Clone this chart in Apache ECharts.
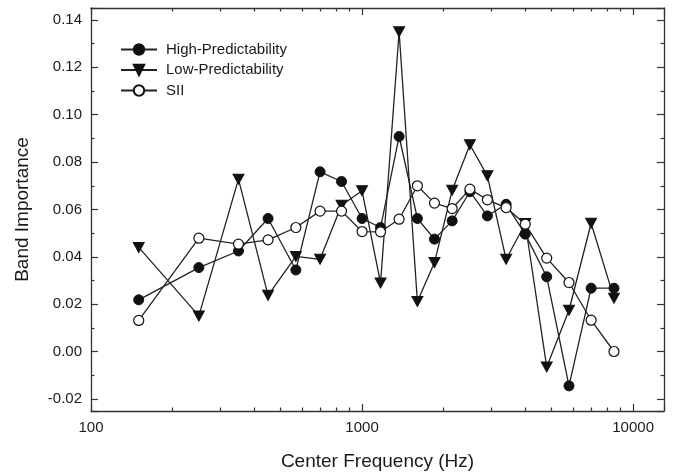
<!DOCTYPE html>
<html>
<head>
<meta charset="utf-8">
<script src="https://cdn.jsdelivr.net/npm/echarts@6/dist/echarts.min.js"></script>
<style>
html,body{margin:0;padding:0;background:#fff;}
#chart{width:674px;height:476px;}
</style>
</head>
<body>
<div id="chart"></div>
<script>
const frequencies = [150, 250, 350, 450, 570, 700, 840, 1000, 1170, 1370, 1600, 1850, 2150, 2500, 2900, 3400, 4000, 4800, 5800, 7000, 8500];
const highPredictability = [0.0219, 0.0355, 0.0425, 0.0562, 0.0345, 0.0759, 0.0718, 0.0562, 0.0524, 0.0908, 0.0562, 0.0475, 0.0552, 0.0675, 0.0573, 0.0622, 0.0496, 0.0316, -0.0144, 0.0268, 0.0268];
const lowPredictability = [0.0440, 0.0151, 0.0728, 0.0238, 0.0402, 0.0390, 0.0618, 0.0679, 0.0290, 0.1350, 0.0212, 0.0376, 0.0681, 0.0873, 0.0742, 0.0390, 0.0541, -0.0064, 0.0175, 0.0542, 0.0226];
const sii = [0.0132, 0.0479, 0.0454, 0.0472, 0.0524, 0.0593, 0.0593, 0.0507, 0.0506, 0.0559, 0.0700, 0.0627, 0.0604, 0.0686, 0.0641, 0.0608, 0.0538, 0.0395, 0.0292, 0.0133, 0.0001];
const seriesNames = ['High-Predictability', 'Low-Predictability', 'SII'];
const xTitle = 'Center Frequency (Hz)';
const yTitle = 'Band Importance';

const ink = '#1a1a1a';
const font = 'Liberation Sans, Arial, sans-serif';

function pairs(vals) { return frequencies.map((f, i) => [f, vals[i]]); }

const xCommon = {
  type: 'log', logBase: 10, min: 100, max: 13000,
  axisLine: { show: true, onZero: false, lineStyle: { color: '#333', width: 1.3 } },
  axisTick: { show: true, inside: true, length: 7, lineStyle: { color: '#333', width: 1.2 } },
  minorTick: { show: true, splitNumber: 9, length: 3.5, lineStyle: { color: '#333', width: 1.2 } },
  splitLine: { show: false }, minorSplitLine: { show: false }
};
const yCommon = {
  type: 'value', min: -0.025, max: 0.145, splitNumber: 8,
  axisLine: { show: true, onZero: false, lineStyle: { color: '#333', width: 1.3 } },
  axisTick: { show: true, inside: true, length: 7, lineStyle: { color: '#333', width: 1.2 } },
  minorTick: { show: true, splitNumber: 2, length: 3.5, lineStyle: { color: '#333', width: 1.2 } },
  splitLine: { show: false }, minorSplitLine: { show: false }
};

const chart = echarts.init(document.getElementById('chart'), null, { renderer: 'canvas' });
chart.setOption({
  animation: false,
  backgroundColor: '#fff',
  textStyle: { fontFamily: font },
  grid: { left: 91, right: 10, top: 8, bottom: 64, containLabel: false },
  legend: {
    orient: 'vertical', left: 120, top: 42, padding: 0,
    itemWidth: 36, itemHeight: 13, itemGap: 5.5,
    data: seriesNames,
    textStyle: { fontSize: 15, color: ink, fontFamily: font, padding: [0, 0, 0, 4] }
  },
  xAxis: [
    Object.assign({}, xCommon, {
      position: 'bottom',
      name: xTitle, nameLocation: 'middle', nameGap: 41,
      nameTextStyle: { fontSize: 19, color: ink, fontFamily: font },
      axisLabel: { show: true, margin: 9, fontSize: 15, color: ink, fontFamily: font,
        showMinLabel: true, showMaxLabel: false,
        formatter: v => String(Math.round(v)) }
    }),
    Object.assign({}, xCommon, { position: 'top', axisLabel: { show: false } })
  ],
  yAxis: [
    Object.assign({}, yCommon, {
      position: 'left',
      name: yTitle, nameLocation: 'middle', nameGap: 59, nameRotate: 90,
      nameTextStyle: { fontSize: 19, color: ink, fontFamily: font },
      axisLabel: { show: true, margin: 9, fontSize: 15, color: ink, fontFamily: font,
        showMinLabel: false, showMaxLabel: false,
        formatter: v => v.toFixed(2) }
    }),
    Object.assign({}, yCommon, { position: 'right', axisLabel: { show: false } })
  ],
  series: [
    {
      name: seriesNames[0], type: 'line', xAxisIndex: 0, yAxisIndex: 0,
      data: pairs(highPredictability),
      symbol: 'circle', symbolSize: 10, showAllSymbol: true,
      lineStyle: { color: '#222', width: 1.3 },
      itemStyle: { color: '#111', borderColor: '#111', borderWidth: 1 },
      z: 3
    },
    {
      name: seriesNames[1], type: 'line', xAxisIndex: 0, yAxisIndex: 0,
      data: pairs(lowPredictability),
      symbol: 'triangle', symbolRotate: 180, symbolSize: [11, 10], showAllSymbol: true,
      lineStyle: { color: '#222', width: 1.3 },
      itemStyle: { color: '#111', borderColor: '#111', borderWidth: 1 },
      z: 3
    },
    {
      name: seriesNames[2], type: 'line', xAxisIndex: 0, yAxisIndex: 0,
      data: pairs(sii),
      symbol: 'circle', symbolSize: 10, showAllSymbol: true,
      lineStyle: { color: '#222', width: 1.3 },
      itemStyle: { color: '#fff', borderColor: '#111', borderWidth: 1.2 },
      z: 3
    }
  ]
});
</script>
</body>
</html>
